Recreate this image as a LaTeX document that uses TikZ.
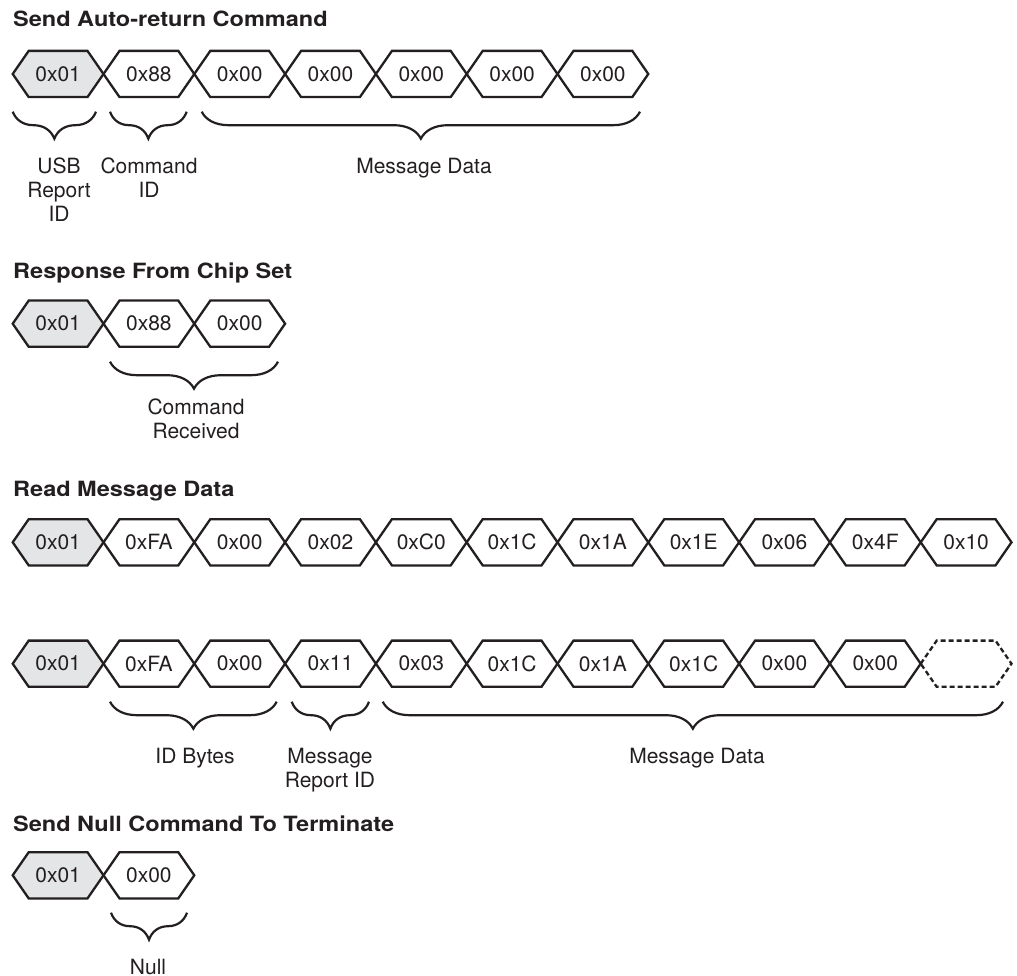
\documentclass[tikz,border=0pt]{standalone}
\usepackage{fontspec}
\setmainfont{TeX Gyre Heros}
\newfontfamily\titlefont[FakeStretch=1.12]{TeX Gyre Heros}
\usetikzlibrary{decorations.pathreplacing}
\definecolor{ink}{RGB}{35,31,32}
\definecolor{pktgray}{RGB}{228,229,231}
\tikzset{
 hexline/.style={draw=ink, line width=2.3pt, line join=miter},
 hextext/.style={inner sep=0pt, font=\fontsize{21}{24}\selectfont, text=ink},
 lbl/.style={inner sep=0pt, anchor=north, align=center, font=\fontsize{21}{24}\selectfont, text=ink},
 ttl/.style={inner sep=0pt, anchor=base west, font=\titlefont\bfseries\fontsize{21}{24}\selectfont, text=ink},
 brc/.style={draw=ink, line width=2.2pt, decorate, decoration={brace, mirror, amplitude=27pt}},
}
\newcommand\pktrow[3]{%
  \foreach \lab [count=\i from 0] in {#3} {%
    \pgfmathsetmacro\L{12.7+\i*90.8}%
    \ifnum\i=0 \def\fc{pktgray}\else\def\fc{white}\fi
    \draw[hexline, fill=\fc] (\L,#2) -- ++(16,-23.1) -- ++(58.8,0) -- ++(16,23.1)
      -- ++(-16,23.1) -- ++(-58.8,0) -- cycle;
    \node[hextext] (#1-\i) at (\L+45.4,#2) {\lab};
  }%
}
\begin{document}
\begin{tikzpicture}[x=1pt,y=-1pt]
\useasboundingbox (0,0) rectangle (1017,976);

% Send Auto-return Command
\node[ttl] (t1) at (13,26.7) {Send Auto-return Command};
\pktrow{a}{74}{0x01,0x88,0x00,0x00,0x00,0x00,0x00}
\draw[brc] (12.7,111.7) -- (96,111.7);
\draw[brc] (110,111.7) -- (186.7,111.7);
\draw[brc] (201.7,111.7) -- (640,111.7);
\node[lbl] (a-usb) at (59,157.5) {USB\\Report\\ID};
\node[lbl] (a-cmd) at (149,157.5) {Command\\ID};
\node[lbl] (a-msg) at (424,157.5) {Message Data};

% Response From Chip Set
\node[ttl] (t2) at (13,278.3) {Response From Chip Set};
\pktrow{b}{323.7}{0x01,0x88,0x00}
\draw[brc] (110,361.7) -- (278,361.7);
\node[lbl] (b-cmd) at (196,399) {Command\\Received};

% Read Message Data
\node[ttl] (t3) at (13,496) {Read Message Data};
\pktrow{c}{542.3}{0x01,0xFA,0x00,0x02,0xC0,0x1C,0x1A,0x1E,0x06,0x4F,0x10}
\pktrow{d}{663.7}{0x01,0xFA,0x00,0x11,0x03,0x1C,0x1A,0x1C,0x00,0x00}
\draw[draw=ink, line width=2.3pt, dash pattern=on 5pt off 3pt]
  (920.7,663.7) -- ++(16,-23.1) -- ++(58.8,0) -- ++(16,23.1)
  -- ++(-16,23.1) -- ++(-58.8,0) -- cycle;
\draw[brc] (110,701.7) -- (276.7,701.7);
\draw[brc] (291.7,701.7) -- (369,701.7);
\draw[brc] (382.7,701.7) -- (1003,701.7);
\node[lbl] (d-id) at (195,748) {ID Bytes};
\node[lbl] (d-rep) at (330,748) {Message\\Report ID};
\node[lbl] (d-msg) at (697,748) {Message Data};

% Send Null Command To Terminate
\node[ttl] (t4) at (13,831.7) {Send Null Command To Terminate};
\pktrow{e}{875.3}{0x01,0x00}
\draw[brc] (111,912.7) -- (187,912.7);
\node[lbl] (e-null) at (148,959) {Null};
\end{tikzpicture}
\end{document}
